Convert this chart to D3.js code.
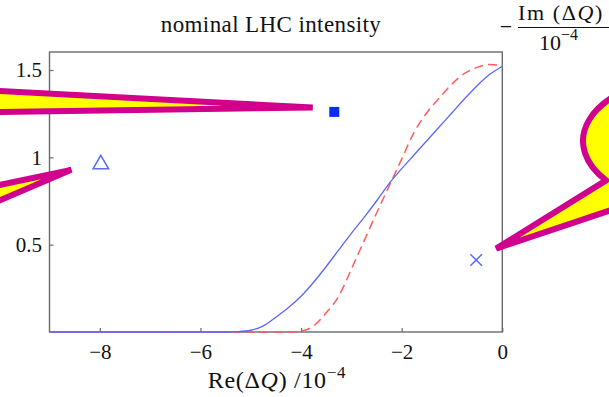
<!DOCTYPE html>
<html>
<head>
<meta charset="utf-8">
<script src="https://cdn.jsdelivr.net/npm/d3@7"></script>
<style>
  html, body { margin: 0; padding: 0; background: #fff; }
  svg { display: block; font-family: "Liberation Serif", "Times New Roman", serif; }
</style>
</head>
<body>
<svg id="chart" width="609" height="397"></svg>
<script>
// Real part of the tune shift (units of 1e-4)
const reDQ = [-9, -5.5, -5.25, -5.0, -4.75, -4.5, -4.25, -4.0, -3.75, -3.5, -3.25, -3.0,
              -2.75, -2.5, -2.25, -2.0, -1.75, -1.5, -1.25, -1.0, -0.75, -0.5, -0.25, 0];
// Stability boundary, -Im(dQ) (units of 1e-4): solid blue curve
const imBlue = [0, 0, 0.002, 0.01, 0.035, 0.085, 0.14, 0.205, 0.285, 0.375, 0.47, 0.565,
                0.655, 0.75, 0.85, 0.935, 1.015, 1.095, 1.175, 1.255, 1.335, 1.41, 1.475, 1.52];
// Stability boundary, -Im(dQ): dashed red curve
const imRed = [0, 0, 0, 0, 0, 0, 0, 0.005, 0.035, 0.11, 0.205, 0.36,
               0.52, 0.68, 0.835, 0.99, 1.145, 1.255, 1.34, 1.42, 1.48, 1.515, 1.532, 1.525];

// Single tune-shift points
const pointRe = [-3.34, -7.98, -0.52];
const pointIm = [1.26, 0.96, 0.412];
const pointShape = ["square", "triangle", "cross"];

const xTicks = [-8, -6, -4, -2, 0];
const yTicks = [0.5, 1, 1.5];
const yTickLabels = ["0.5", "1", "1.5"];

const plot = { left: 49.5, right: 502.3, top: 52, bottom: 332 };

const svg = d3.select("#chart");
const x = d3.scaleLinear().domain([-9, 0]).range([plot.left, plot.right]);
const y = d3.scaleLinear().domain([0, 1.603]).range([plot.bottom, plot.top]);

const frameColor = "#6a6a6a";
const textColor = "#111";
const magenta = "#d1008d";
const yellow = "#ffff00";

// Frame
svg.append("rect")
  .attr("x", plot.left).attr("y", plot.top)
  .attr("width", plot.right - plot.left).attr("height", plot.bottom - plot.top)
  .attr("fill", "none").attr("stroke", frameColor).attr("stroke-width", 1.4);

// Axes with inward ticks
const gx = svg.append("g")
  .attr("transform", `translate(0,${plot.bottom})`)
  .call(d3.axisBottom(x).tickValues(xTicks).tickSizeInner(-4).tickSizeOuter(0).tickPadding(12));
const gy = svg.append("g")
  .attr("transform", `translate(${plot.left},0)`)
  .call(d3.axisLeft(y).tickValues(yTicks).tickSizeInner(-4).tickSizeOuter(0).tickPadding(7.5)
        .tickFormat((d, i) => yTickLabels[i]));
[gx, gy].forEach(g => {
  g.select(".domain").remove();
  g.attr("font-family", null).attr("font-size", null);
  g.selectAll(".tick line").attr("stroke", frameColor).attr("stroke-width", 1.2);
  g.selectAll(".tick text").attr("fill", textColor).style("font-size", "21px");
});

// Curves
const defs = svg.append("defs");
defs.append("clipPath").attr("id", "plotClip")
  .append("rect")
  .attr("x", plot.left).attr("y", plot.top - 2)
  .attr("width", plot.right - plot.left + 1).attr("height", plot.bottom - plot.top + 4);

const line = d3.line()
  .x(d => x(d[0])).y(d => y(d[1]))
  .curve(d3.curveMonotoneX);

const curves = svg.append("g").attr("clip-path", "url(#plotClip)");
curves.append("path")
  .datum(reDQ.map((r, i) => [r, imRed[i]]))
  .attr("d", line)
  .attr("fill", "none").attr("stroke", "#ff5c5c").attr("stroke-width", 1.5)
  .attr("stroke-dasharray", "9,5");
curves.append("path")
  .datum(reDQ.map((r, i) => [r, imBlue[i]]))
  .attr("d", line)
  .attr("fill", "none").attr("stroke", "#5a66ff").attr("stroke-width", 1.3);

// Point markers
const pts = pointRe.map((r, i) => ({ px: x(r), py: y(pointIm[i]), shape: pointShape[i] }));
pts.forEach(p => {
  if (p.shape === "square") {
    svg.append("path")
      .attr("transform", `translate(${p.px},${p.py})`)
      .attr("d", d3.symbol(d3.symbolSquare, 100)())
      .attr("fill", "#0b2bff");
  } else if (p.shape === "triangle") {
    svg.append("path")
      .attr("transform", `translate(${p.px},${p.py})`)
      .attr("d", d3.symbol(d3.symbolTriangle, 105)())
      .attr("fill", "none").attr("stroke", "#5a6aff").attr("stroke-width", 1.5);
  } else {
    const h = 5.8;
    svg.append("path")
      .attr("d", `M${p.px - h},${p.py - h}L${p.px + h},${p.py + h}M${p.px - h},${p.py + h}L${p.px + h},${p.py - h}`)
      .attr("fill", "none").attr("stroke", "#5a6aff").attr("stroke-width", 1.5);
  }
});

// Callout balloons pointing at the markers
const callouts = svg.append("g");
function wedge(tip, farTop, farBot) {
  callouts.append("path")
    .attr("d", `M${farTop[0]},${farTop[1]}L${tip[0]},${tip[1]}L${farBot[0]},${farBot[1]}Z`)
    .attr("fill", yellow).attr("stroke", magenta).attr("stroke-width", 6)
    .attr("stroke-linejoin", "miter");
}
// wedge toward the square marker
{
  const p = pts[0];
  const tip = [p.px - 21.5, p.py - 4.4];
  wedge(tip, [-100, 85.8], [-100, 113.5]);
}
// wedge toward the triangle marker
{
  const p = pts[1];
  const tip = [p.px - 29.5, p.py + 5.5];
  wedge(tip, [-60, 197.5], [-60, 226]);
}
// balloon with elliptical body toward the cross marker
{
  const p = pts[2];
  const tip = [p.px + 20, p.py - 11.5];
  const cx = 700, cy = 141, rx = 117, ry = 66;
  // intersection of a ray from the tip with the ellipse
  function hit(dx, dy) {
    const ox = (tip[0] - cx) / rx, oy = (tip[1] - cy) / ry;
    const vx = dx / rx, vy = dy / ry;
    const a = vx * vx + vy * vy, b = 2 * (ox * vx + oy * vy), c = ox * ox + oy * oy - 1;
    const t = (-b - Math.sqrt(b * b - 4 * a * c)) / (2 * a);
    return [tip[0] + t * dx, tip[1] + t * dy];
  }
  const A = hit(1, -0.62);
  const B = hit(1, -0.335);
  callouts.append("path")
    .attr("d", `M${A[0]},${A[1]}L${tip[0]},${tip[1]}L${B[0]},${B[1]}A${rx},${ry} 0 1 0 ${A[0]},${A[1]}Z`)
    .attr("fill", yellow).attr("stroke", magenta).attr("stroke-width", 6)
    .attr("stroke-linejoin", "miter");
}

// Title
svg.append("text")
  .attr("x", 271).attr("y", 31.5)
  .attr("text-anchor", "middle")
  .attr("fill", textColor)
  .style("font-size", "23px").style("letter-spacing", "0.4px")
  .text("nominal LHC intensity");

// x-axis label: Re(ΔQ) /10^-4
const xl = svg.append("text")
  .attr("x", 277).attr("y", 388)
  .attr("text-anchor", "middle")
  .attr("fill", textColor)
  .style("font-size", "24px").style("letter-spacing", "0.7px");
xl.append("tspan").text("Re(Δ");
xl.append("tspan").style("font-style", "italic").text("Q");
xl.append("tspan").text(") /10");
xl.append("tspan").attr("dy", -10).style("font-size", "17px").text("−4");

// y-axis label: -Im(ΔQ) / 10^-4 as a fraction
svg.append("text")
  .attr("x", 506).attr("y", 34)
  .attr("text-anchor", "middle")
  .attr("fill", textColor)
  .style("font-size", "22px")
  .text("−");
const num = svg.append("text")
  .attr("x", 518).attr("y", 19.5)
  .attr("fill", textColor)
  .style("font-size", "22px").style("letter-spacing", "1.6px");
num.append("tspan").text("Im (Δ");
num.append("tspan").style("font-style", "italic").text("Q");
num.append("tspan").text(")");
svg.append("line")
  .attr("x1", 518).attr("x2", 609).attr("y1", 27.5).attr("y2", 27.5)
  .attr("stroke", textColor).attr("stroke-width", 1);
const den = svg.append("text")
  .attr("x", 539).attr("y", 50)
  .attr("fill", textColor)
  .style("font-size", "22px");
den.append("tspan").text("10");
den.append("tspan").attr("dy", -10).style("font-size", "16px").text("−4");
</script>
</body>
</html>
